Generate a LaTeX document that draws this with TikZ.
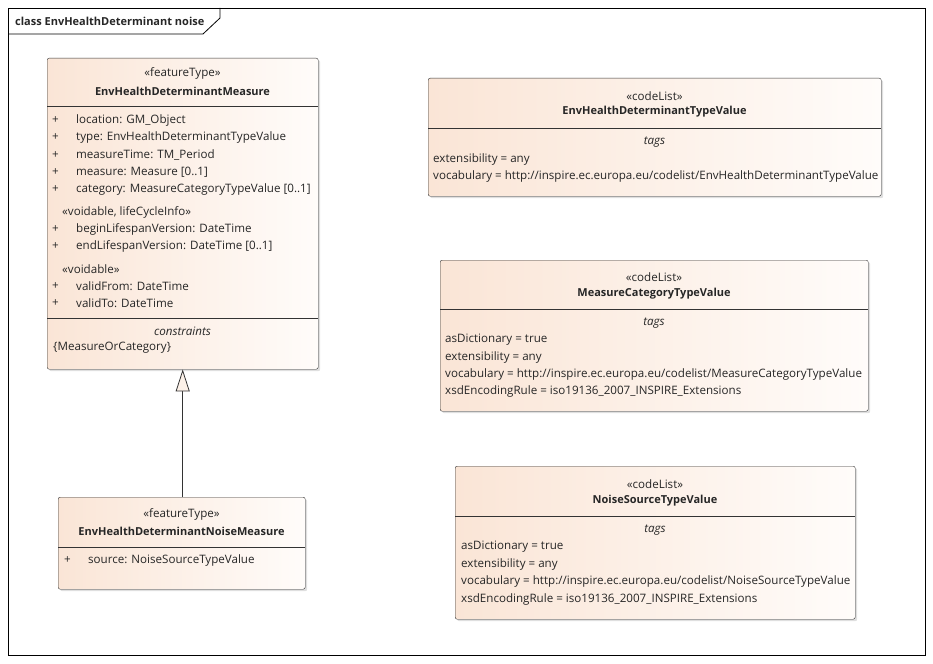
\documentclass[tikz,border=0pt]{standalone}
\usepackage{fontspec}
\setmainfont{Open Sans}
\usetikzlibrary{arrows.meta, positioning, shadows, calc}
\definecolor{umlpeach}{HTML}{FAE5D6}
\definecolor{umlwhite}{HTML}{FFFCFA}
\definecolor{umlline}{HTML}{333333}
\definecolor{umltext}{HTML}{262626}

\begin{document}
\begin{tikzpicture}[x=1pt, y=-1pt,
  every node/.style={font=\fontsize{11.6}{13}\selectfont, inner sep=0pt, text=umltext},
  classbox/.style={draw=umlline, rounded corners=2pt, anchor=north west,
                   left color=umlpeach, right color=umlwhite,
                   drop shadow={opacity=0.25, shadow xshift=2pt, shadow yshift=-2pt}},
  cname/.style={font=\fontsize{11}{13}\selectfont\bfseries},
  row/.style={anchor=west},
  divider/.style={draw=umlline, line width=0.8pt}
]
  \useasboundingbox (0,0) rectangle (933,663);

  % frame and tab
  \node[draw, line width=0.8pt, anchor=north west, minimum width=917pt, minimum height=647pt]
        (frame) at (8,8) {};
  \draw[line width=0.8pt] (8,34) -- (203,34) -- (220,18) -- (220,8);
  \node[row, font=\fontsize{11}{13}\selectfont\bfseries] (title) at (15,21)
        {class EnvHealthDeterminant noise};

  % EnvHealthDeterminantMeasure
  \node[classbox, minimum width=271pt, minimum height=311pt] (measure) at (47,58) {};
  \node (measureSt) at (182.5,73) {«featureType»};
  \node[cname] (measureNm) at (182.5,91) {EnvHealthDeterminantMeasure};
  \draw[divider] (47,106) -- (318,106);
  \node[row] (mv1) at (52,120) {+};
  \node[row] (ma1) at (76,120) {location: GM\_Object};
  \node[row] (mv2) at (52,137) {+};
  \node[row] (ma2) at (76,137) {type: EnvHealthDeterminantTypeValue};
  \node[row] (mv3) at (52,155) {+};
  \node[row] (ma3) at (76,155) {measureTime: TM\_Period};
  \node[row] (mv4) at (52,172) {+};
  \node[row] (ma4) at (76,172) {measure: Measure [0..1]};
  \node[row] (mv5) at (52,189) {+};
  \node[row] (ma5) at (76,189) {category: MeasureCategoryTypeValue [0..1]};
  \node[row] (mst1) at (62,212) {«voidable, lifeCycleInfo»};
  \node[row] (mv6) at (52,229) {+};
  \node[row] (ma6) at (76,229) {beginLifespanVersion: DateTime};
  \node[row] (mv7) at (52,246) {+};
  \node[row] (ma7) at (76,246) {endLifespanVersion: DateTime [0..1]};
  \node[row] (mst2) at (62,269) {«voidable»};
  \node[row] (mv8) at (52,286) {+};
  \node[row] (ma8) at (76,286) {validFrom: DateTime};
  \node[row] (mv9) at (52,303) {+};
  \node[row] (ma9) at (76,303) {validTo: DateTime};
  \draw[divider] (47,318) -- (318,318);
  \node[font=\fontsize{11.6}{13}\selectfont\itshape] (mcons) at (182.5,331) {constraints};
  \node[row] (mc1) at (53,348) {\{MeasureOrCategory\}};

  % EnvHealthDeterminantNoiseMeasure
  \node[classbox, minimum width=247pt, minimum height=92pt] (noise) at (58,497) {};
  \node (noiseSt) at (181.5,514) {«featureType»};
  \node[cname] (noiseNm) at (181.5,531) {EnvHealthDeterminantNoiseMeasure};
  \draw[divider] (58,547) -- (305,547);
  \node[row] (nv1) at (64,560) {+};
  \node[row] (na1) at (88,560) {source: NoiseSourceTypeValue};

  % generalization
  \draw[umlline, line width=0.8pt,
        -{Triangle[length=22pt, width=14pt, fill=umlpeach!55]}]
        (noise.north -| measure.south) -- (measure.south);

  % EnvHealthDeterminantTypeValue
  \node[classbox, minimum width=453pt, minimum height=118pt] (typeval) at (428,78) {};
  \node (typevalSt) at (654.5,96) {«codeList»};
  \node[cname] (typevalNm) at (654.5,112) {EnvHealthDeterminantTypeValue};
  \draw[divider] (428,128) -- (881,128);
  \node[font=\fontsize{11.6}{13}\selectfont\itshape] (typevalTg) at (654.5,142) {tags};
  \node[row] (tt1) at (433,159) {extensibility = any};
  \node[row] (tt2) at (433,176) {vocabulary = http://inspire.ec.europa.eu/codelist/EnvHealthDeterminantTypeValue};

  % MeasureCategoryTypeValue
  \node[classbox, minimum width=428pt, minimum height=151pt] (catval) at (440,260) {};
  \node (catvalSt) at (654,277) {«codeList»};
  \node[cname] (catvalNm) at (654,294) {MeasureCategoryTypeValue};
  \draw[divider] (440,309) -- (868,309);
  \node[font=\fontsize{11.6}{13}\selectfont\itshape] (catvalTg) at (654,323) {tags};
  \node[row] (ct1) at (445,340) {asDictionary = true};
  \node[row] (ct2) at (445,357) {extensibility = any};
  \node[row] (ct3) at (445,374) {vocabulary = http://inspire.ec.europa.eu/codelist/MeasureCategoryTypeValue};
  \node[row] (ct4) at (445,391) {xsdEncodingRule = iso19136\_2007\_INSPIRE\_Extensions};

  % NoiseSourceTypeValue
  \node[classbox, minimum width=400pt, minimum height=153pt] (srcval) at (455,466) {};
  \node (srcvalSt) at (655,484) {«codeList»};
  \node[cname] (srcvalNm) at (655,501) {NoiseSourceTypeValue};
  \draw[divider] (455,516) -- (855,516);
  \node[font=\fontsize{11.6}{13}\selectfont\itshape] (srcvalTg) at (655,530) {tags};
  \node[row] (st1) at (461,547) {asDictionary = true};
  \node[row] (st2) at (461,564) {extensibility = any};
  \node[row] (st3) at (461,581) {vocabulary = http://inspire.ec.europa.eu/codelist/NoiseSourceTypeValue};
  \node[row] (st4) at (461,599) {xsdEncodingRule = iso19136\_2007\_INSPIRE\_Extensions};
\end{tikzpicture}
\end{document}
